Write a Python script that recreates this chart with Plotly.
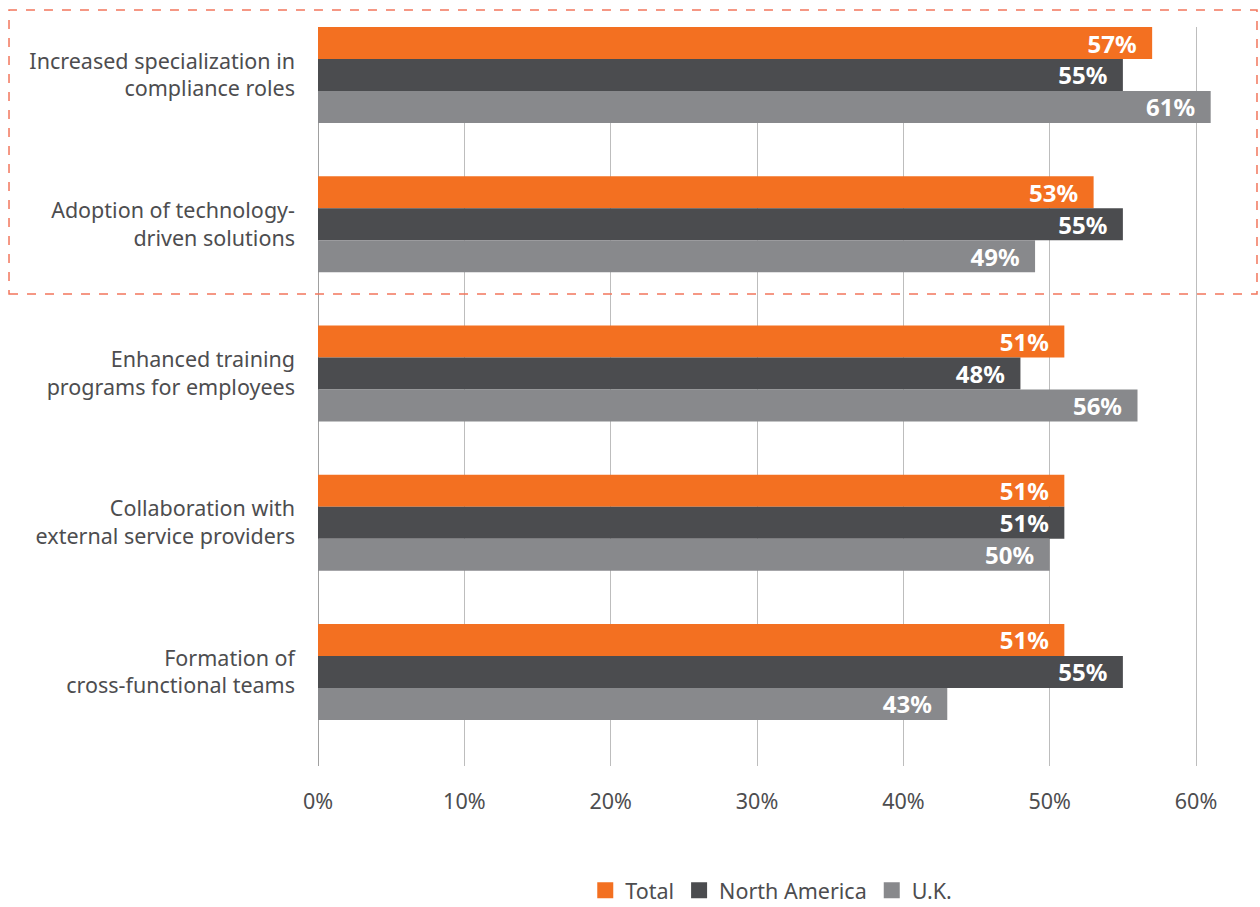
import plotly.graph_objects as go

# Survey responses by region
categories = [
    "Increased specialization in<br>compliance roles",
    "Adoption of technology-<br>driven solutions",
    "Enhanced training<br>programs for employees",
    "Collaboration with<br>external service providers",
    "Formation of<br>cross-functional teams",
]
total = [57, 53, 51, 51, 51]
north_america = [55, 55, 48, 51, 55]
uk = [61, 49, 56, 50, 43]

x_ticks = [0, 10, 20, 30, 40, 50, 60]
x_tick_labels = ["0%", "10%", "20%", "30%", "40%", "50%", "60%"]

series = [
    ("Total", total, "#F37021"),
    ("North America", north_america, "#4B4C4F"),
    ("U.K.", uk, "#88898C"),
]

FONT = "Noto Sans"
TEXT_COLOR = "#4D4D4F"
LABEL_SIZE = 21.5

fig = go.Figure()

for name, values, color in series:
    fig.add_trace(go.Bar(
        y=categories,
        x=values,
        orientation="h",
        name=name,
        marker=dict(color=color, line=dict(width=0)),
        text=[f"{v}%" for v in values],
        texttemplate="%{text}\u00a0\u00a0",
        textposition="inside",
        insidetextanchor="end",
        constraintext="none",
        textfont=dict(family=FONT, size=24, color="white", weight="bold"),
        showlegend=False,
        hoverinfo="skip",
    ))

# Legend entries with larger square swatches
for name, values, color in series:
    fig.add_trace(go.Scatter(
        x=[None], y=[None],
        mode="markers",
        name=name,
        marker=dict(symbol="square", size=19, color=color),
        showlegend=True,
    ))

fig.update_layout(
    width=1260,
    height=907,
    margin=dict(l=318, r=30, t=27, b=141, autoexpand=False),
    paper_bgcolor="white",
    plot_bgcolor="white",
    barmode="group",
    bargap=0.357,
    bargroupgap=0,
    font=dict(family=FONT, size=LABEL_SIZE, color=TEXT_COLOR),
    legend=dict(
        orientation="h",
        x=0.497, xanchor="center",
        y=-0.168, yanchor="middle",
        font=dict(family=FONT, size=LABEL_SIZE, color=TEXT_COLOR),
        itemclick=False,
    ),
    xaxis=dict(
        range=[0, 62.32],
        tickvals=x_ticks,
        ticktext=x_tick_labels,
        showgrid=True,
        gridcolor="#BDBDBD",
        gridwidth=1,
        zeroline=True,
        zerolinecolor="#A0A0A0",
        zerolinewidth=1,
        showline=False,
        ticks="",
        ticklabelstandoff=20,
        tickfont=dict(family=FONT, size=LABEL_SIZE, color=TEXT_COLOR),
    ),
    yaxis=dict(
        type="category",
        range=[4.63, -0.3216],
        showgrid=False,
        zeroline=False,
        showline=False,
        ticks="",
        ticklabelstandoff=22,
        tickfont=dict(family=FONT, size=LABEL_SIZE, color=TEXT_COLOR),
    ),
    shapes=[
        dict(
            type="rect",
            xref="paper", yref="paper",
            x0=-0.3388, x1=1.0296,
            y0=0.6387, y1=1.023,
            line=dict(color="#F2765C", width=1.5, dash="dash"),
            fillcolor="rgba(0,0,0,0)",
            layer="above",
        )
    ],
)

fig.write_html("out.html")
